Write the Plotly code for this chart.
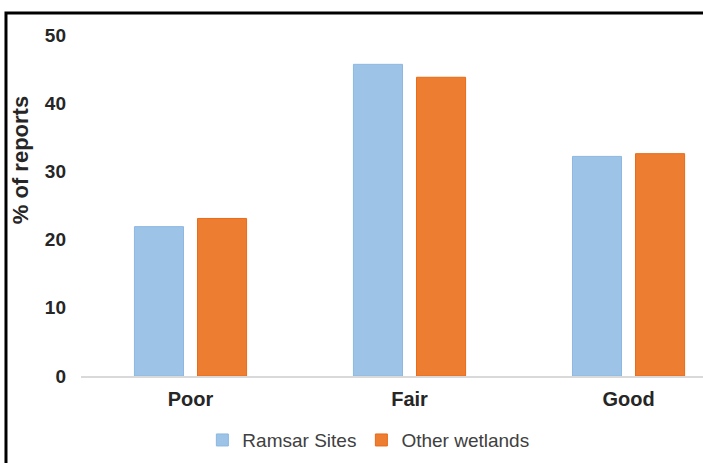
import plotly.graph_objects as go

# Condition of wetlands, share of reports per category
categories = ["Poor", "Fair", "Good"]
ramsar_sites = [21.9, 45.7, 32.2]
other_wetlands = [23.1, 43.8, 32.6]
y_ticks = [0, 10, 20, 30, 40, 50]

FONT = "Liberation Sans, Arial, sans-serif"

fig = go.Figure()
fig.add_trace(go.Bar(
    x=categories, y=ramsar_sites, name="Ramsar Sites",
    width=0.224, offset=-0.256,
    marker=dict(color="#9DC3E6", line=dict(color="#8CB8E2", width=1)),
))
fig.add_trace(go.Bar(
    x=categories, y=other_wetlands, name="Other wetlands",
    width=0.224, offset=0.032,
    marker=dict(color="#ED7D31", line=dict(color="#EA6A17", width=1)),
))

fig.update_layout(
    width=703, height=463,
    margin=dict(l=81, r=0, t=35, b=87),
    paper_bgcolor="white", plot_bgcolor="white",
    barmode="group",
    showlegend=True,
    legend=dict(
        orientation="h", x=0.462, xanchor="center", y=-0.188, yanchor="middle",
        font=dict(family=FONT, size=19, color="#404040"),
        itemwidth=30, tracegroupgap=0, bgcolor="rgba(0,0,0,0)",
    ),
    xaxis=dict(
        range=[-0.5, 2.34], showgrid=False, zeroline=False,
        showline=True, linecolor="#D9D9D9", linewidth=1.5,
        ticks="", ticklabelstandoff=4,
        tickfont=dict(family=FONT, size=20, color="#262626", weight="bold"),
    ),
    yaxis=dict(
        range=[0, 50], tickvals=y_ticks, showgrid=False, zeroline=False,
        showline=False, ticks="", ticklabelstandoff=14,
        tickfont=dict(family=FONT, size=19, color="#262626", weight="bold"),
    ),
    annotations=[dict(
        text="% of reports", textangle=-90, showarrow=False,
        xref="paper", yref="paper", x=-0.098, y=0.633,
        xanchor="center", yanchor="middle",
        font=dict(family=FONT, size=22, color="#262626", weight="bold"),
    )],
    shapes=[dict(
        type="rect", xref="paper", yref="paper",
        x0=-0.1206, x1=1.2, y0=-0.4, y1=1.0645,
        line=dict(color="black", width=3), fillcolor="rgba(0,0,0,0)",
        layer="above",
    )],
)

fig.write_html("out.html")
